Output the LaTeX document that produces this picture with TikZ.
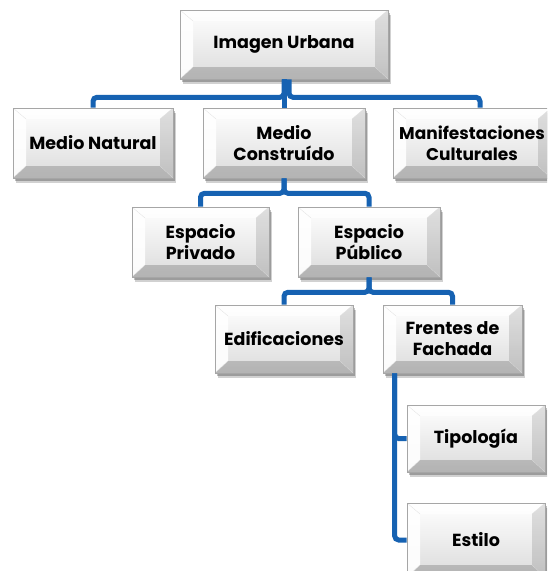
\documentclass[tikz,border=0pt]{standalone}
\usepackage{fontspec}
\setmainfont{Poppins}
\usetikzlibrary{shadows,calc}
\definecolor{linkblue}{RGB}{22,98,178}
\tikzset{
  bevelbox/.style={
    rectangle, inner sep=0pt, align=center,
    font=\fontsize{17.5}{21}\selectfont\bfseries,
    top color=white, bottom color=black!14,
    draw=black!35, line width=0.6pt,
    drop shadow={shadow xshift=3pt, shadow yshift=-5pt, opacity=0.18, fill=black},
    drop shadow={shadow xshift=1.5pt, shadow yshift=-3pt, opacity=0.25, fill=black},
    path picture={
      \coordinate (NW) at (path picture bounding box.north west);
      \coordinate (NE) at (path picture bounding box.north east);
      \coordinate (SW) at (path picture bounding box.south west);
      \coordinate (SE) at (path picture bounding box.south east);
      \coordinate (nw) at ([xshift=13pt,yshift=-11pt]NW);
      \coordinate (ne) at ([xshift=-13pt,yshift=-11pt]NE);
      \coordinate (sw) at ([xshift=13pt,yshift=12pt]SW);
      \coordinate (se) at ([xshift=-13pt,yshift=12pt]SE);
      \fill[white, opacity=0.75] (NW) -- (NE) -- (ne) -- (nw) -- cycle;
      \fill[white, opacity=0.9] (NW) -- (nw) -- (sw) -- (SW) -- cycle;
      \fill[black, opacity=0.12] (NE) -- (ne) -- (se) -- (SE) -- cycle;
      \fill[black, opacity=0.18] (SW) -- (sw) -- (se) -- (SE) -- cycle;
      \draw[black!12, line width=0.3pt] (NW) -- (nw) (NE) -- (ne) (SW) -- (sw) (SE) -- (se);
    }
  },
  conn/.style={draw=linkblue, line width=5pt, rounded corners=4pt}
}
\begin{document}
\begin{tikzpicture}[x=1pt,y=-1pt]
\useasboundingbox (0,0) rectangle (547,571);
\clip (0,0) rectangle (547,571);
\fill[white] (0,0) rectangle (547,571);

% nodes
\node[bevelbox, minimum width=208pt, minimum height=69pt] (iu) at (284,44.5) {Imagen Urbana};
\node[bevelbox, minimum width=160pt, minimum height=70pt] (mn) at (93,143) {Medio Natural};
\node[bevelbox, minimum width=162pt, minimum height=70pt] (mc) at (284,143) {Medio\\Construído};
\node[bevelbox, minimum width=158pt, minimum height=70pt, font=\fontsize{17}{21}\selectfont\bfseries] (mf) at (472,143) {Manifestaciones\\Culturales};
\node[bevelbox, minimum width=137pt, minimum height=70pt] (ep) at (200.5,242) {Espacio\\Privado};
\node[bevelbox, minimum width=142pt, minimum height=70pt] (eu) at (369,242) {Espacio\\Público};
\node[bevelbox, minimum width=138pt, minimum height=68pt] (ed) at (284,339) {Edificaciones};
\node[bevelbox, minimum width=139pt, minimum height=68pt] (ff) at (452.5,339) {Frentes de\\Fachada};
\node[bevelbox, minimum width=138pt, minimum height=67pt] (tp) at (476,438.5) {Tipología};
\node[bevelbox, minimum width=138pt, minimum height=74pt] (es) at (476,540) {Estilo};

% connectors
\draw[conn] (iu.south) -- ++(0,18) -| (mn.north);
\draw[conn] (iu.south) -- (mc.north);
\draw[conn] ([xshift=5pt]iu.south) -- ++(0,18) -| ([xshift=8pt]mf.north);
\draw[conn] (mc.south) -- ++(0,15) -| (ep.north);
\draw[conn] (mc.south) -- ++(0,15) -| (eu.north);
\draw[conn] (eu.south) -- ++(0,15) -| (ed.north);
\draw[conn] (eu.south) -- ++(0,15) -| (ff.north);
\draw[conn] ([xshift=12pt]ff.south west) |- (tp.west);
\draw[conn] ([xshift=12pt]ff.south west) |- (es.west);
\end{tikzpicture}
\end{document}
